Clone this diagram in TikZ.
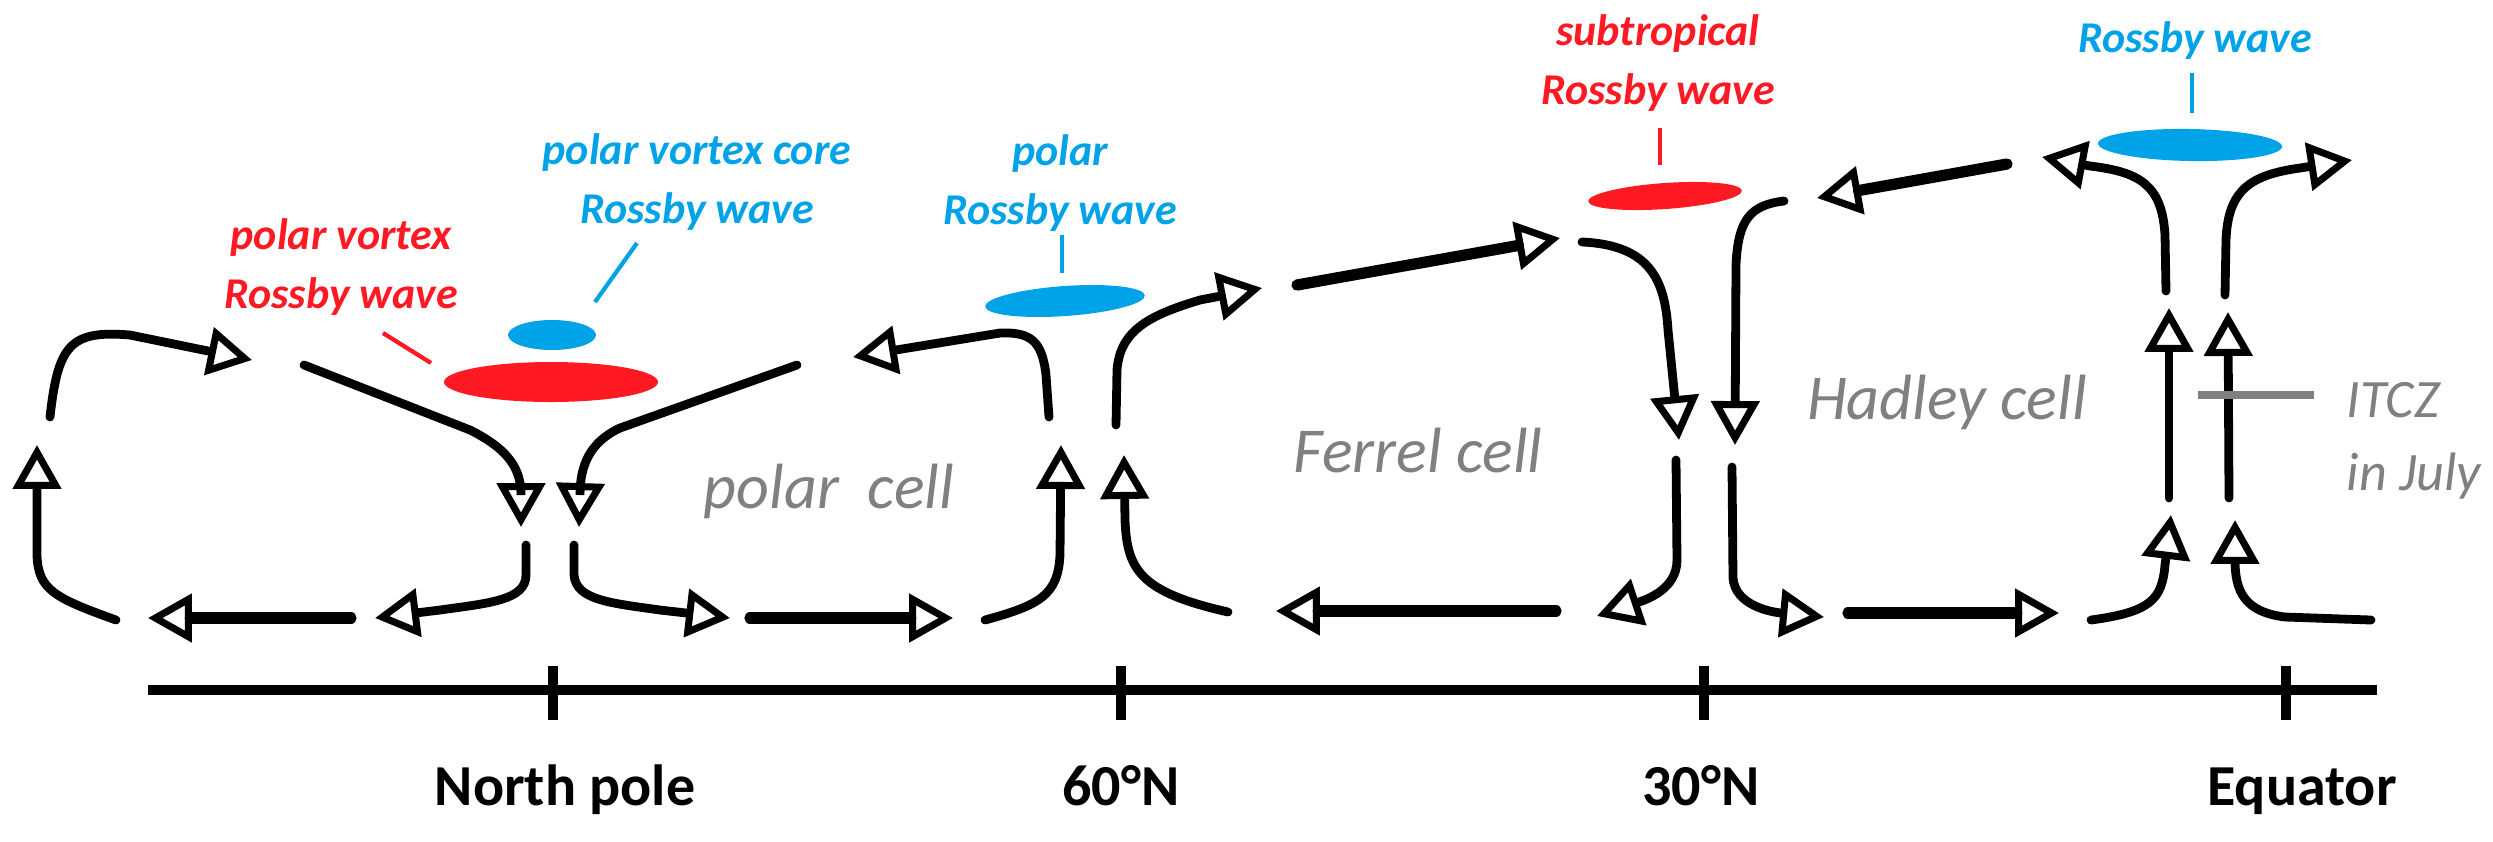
\documentclass[tikz,border=0pt]{standalone}
\usepackage{fontspec}
\setmainfont{Carlito}
\usepackage{tikz}
\usetikzlibrary{arrows.meta}
\definecolor{wavered}{RGB}{255,25,35}
\definecolor{waveblue}{RGB}{0,162,232}
\definecolor{cellgray}{RGB}{128,128,128}
\newcommand {\lat}[4] {\draw[line width = 2.6pt] (#1,666) -- (#1,720);
                       \node[latname] (#4) at (#2,805) {#3};}
\newcommand {\wave}[6] {\fill[#1, rotate around={#6:(#2,#3)}] (#2,#3) ellipse [x radius=#4, y radius=#5];}

\begin{document}
\begin{tikzpicture}[x=0.01cm, y=-0.01cm,
        flow/.style={line width = 2.5pt, line cap=round, -{Triangle[open, length=12.5pt, width=13.5pt, line width=2pt]}},
        flat/.style={flow, line width = 3.2pt},
        leader/.style={line width = 1.2pt},
        latname/.style={anchor=base, inner sep=0pt, font=\bfseries\fontsize{16.5}{20}\selectfont},
        cellname/.style={anchor=base, inner sep=0pt, text=cellgray, font=\itshape\fontsize{18.2}{22}\selectfont},
        itcz/.style={anchor=base west, inner sep=0pt, text=cellgray, font=\itshape\fontsize{15.4}{19}\selectfont},
        rossby/.style={align=center, inner sep=0pt, font=\bfseries\itshape\fontsize{12.5}{16.8}\selectfont}]
        \useasboundingbox (0,0) rectangle (2493,841);
        \draw[flow] (116,620) .. controls (55,598) and (38,590) .. (37,555) -- (37,445);
        \draw[flow] (50,417) .. controls (58,345) and (70,330) .. (130,335) -- (252,360);
        \draw[flow] (304,365) -- (470,430) .. controls (510,450) and (521,470) .. (521,495) -- (521,527);
        \draw[flow] (797,365) -- (620,428) .. controls (590,442) and (580,465) .. (580,495) -- (579,527);
        \draw[flow] (526,545) -- (526,575) .. controls (526,600) and (490,603) .. (440,610) -- (375,618);
        \draw[flat] (351,618) -- (148,618);
        \draw[flow] (574,545) -- (574,575) .. controls (576,600) and (610,603) .. (660,610) -- (730,618);
        \draw[flat] (750,618) -- (953,618);
        \draw[flow] (985,620) .. controls (1040,605) and (1058,595) .. (1060,555) -- (1061,445);
        \draw[flow] (1049,417) -- (1046,375) .. controls (1042,340) and (1030,332) .. (1000,333) -- (853,357);
        \draw[flow] (1228,612) .. controls (1140,592) and (1127,570) .. (1125,520) -- (1124,455);
        \draw[flow] (1116,425) -- (1117,370) .. controls (1120,330) and (1150,315) .. (1200,300) -- (1262,288);
        \draw[flat] (1297,285) -- (1560,238);
        \draw[flow] (1582,242) .. controls (1650,245) and (1665,280) .. (1668,330) -- (1679,440);
        \draw[flow] (1676,460) -- (1677,560) .. controls (1677,590) and (1645,600) .. (1597,616);
        \draw[flat] (1556,611) -- (1276,611);
        \draw[flow] (1784,201) .. controls (1750,205) and (1738,220) .. (1736,265) -- (1735,445);
        \draw[flow] (1732,467) -- (1733,578) .. controls (1735,605) and (1770,612) .. (1824,617);
        \draw[flat] (1848,613) -- (2059,613);
        \draw[flat] (2007,164) -- (1817,198);
        \draw[flow] (2091,620) .. controls (2150,612) and (2162,600) .. (2165,565) -- (2171,515);
        \draw[flow] (2371,620) -- (2285,617) .. controls (2245,612) and (2235,592) .. (2235,560) -- (2235,520);
        \draw[flow] (2169,498) -- (2169,308);
        \draw[flow] (2229,498) -- (2228,312);
        \draw[flow] (2166,291) -- (2165,235) .. controls (2162,185) and (2140,172) .. (2090,166) -- (2042,157);
        \draw[flow] (2225,295) -- (2226,240) .. controls (2228,190) and (2250,175) .. (2300,168) -- (2352,160);
        \wave{wavered}{551}{382}{107}{20}{0}
        \wave{waveblue}{552}{335}{44}{15}{0}
        \wave{waveblue}{1065}{301}{80}{15}{4}
        \wave{wavered}{1665}{196}{77}{13}{4}
        \wave{waveblue}{2190}{145}{92}{16}{-1}
        \draw[leader, wavered] (383,333) -- (431,363);
        \draw[leader, waveblue] (637,243) -- (595,302);
        \draw[leader, waveblue] (1062,235) -- (1062,273);
        \draw[leader, wavered] (1660,128) -- (1660,165);
        \draw[leader, waveblue] (2192,73) -- (2192,113);
        \draw[line width = 2.4pt, color=cellgray] (2198,395) -- (2314,395);
        \node[rossby, text=wavered] (pv) at (341,267) {polar vortex\\Rossby wave};
        \node[rossby, text=waveblue] (pvc) at (697,182) {polar vortex core\\Rossby wave};
        \node[rossby, text=waveblue] (polar) at (1060,183) {polar\\Rossby wave};
        \node[rossby, text=wavered] (subtrop) at (1658,63) {subtropical\\Rossby wave};
        \node[rossby, text=waveblue] (tropic) at (2195,41) {Rossby wave};
        \node[cellname] (polarcell) at (829,508) {polar\ \ cell};
        \node[cellname] (ferrel) at (1418,472) {Ferrel cell};
        \node[cellname] (hadley) at (1947,419) {Hadley cell};
        \node[itcz] (itcz) at (2346,417) {ITCZ};
        \node[itcz] (july) at (2346,490) {in July};
        \draw[line width = 3.1pt] (148,690) -- (2377,690);
        \lat{553}{565}{North pole}{np}
        \lat{1121}{1121}{60°N}{n60}
        \lat{1704}{1701}{30°N}{n30}
        \lat{2286}{2302}{Equator}{eq}
\end{tikzpicture}
\end{document}
